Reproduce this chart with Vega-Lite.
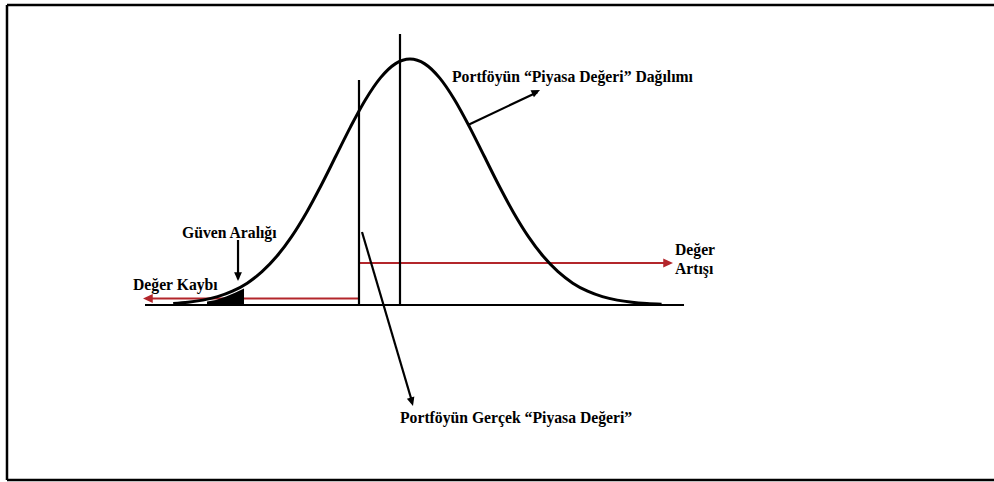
{
  "$schema": "https://vega.github.io/schema/vega-lite/v6.json",
  "width": 994,
  "height": 482,
  "padding": 0,
  "autosize": {"type": "fit", "contains": "padding"},
  "background": "white",
  "config": {"view": {"stroke": null}},
  "datasets": {
    "curve": [
      {"u": -3.2, "d": 0.0060}, {"u": -3.0, "d": 0.0111}, {"u": -2.8, "d": 0.0198}, {"u": -2.6, "d": 0.0340},
      {"u": -2.4, "d": 0.0561}, {"u": -2.2, "d": 0.0889}, {"u": -2.0, "d": 0.1353}, {"u": -1.8, "d": 0.1979},
      {"u": -1.6, "d": 0.2780}, {"u": -1.4, "d": 0.3753}, {"u": -1.2, "d": 0.4868}, {"u": -1.0, "d": 0.6065},
      {"u": -0.8, "d": 0.7262}, {"u": -0.6, "d": 0.8353}, {"u": -0.4, "d": 0.9231}, {"u": -0.2, "d": 0.9802},
      {"u": 0.0, "d": 1.0}, {"u": 0.2, "d": 0.9802}, {"u": 0.4, "d": 0.9231}, {"u": 0.6, "d": 0.8353},
      {"u": 0.8, "d": 0.7262}, {"u": 1.0, "d": 0.6065}, {"u": 1.2, "d": 0.4868}, {"u": 1.4, "d": 0.3753},
      {"u": 1.6, "d": 0.2780}, {"u": 1.8, "d": 0.1979}, {"u": 2.0, "d": 0.1353}, {"u": 2.2, "d": 0.0889},
      {"u": 2.4, "d": 0.0561}, {"u": 2.6, "d": 0.0340}, {"u": 2.8, "d": 0.0198}, {"u": 3.0, "d": 0.0111},
      {"u": 3.2, "d": 0.0060}, {"u": 3.4, "d": 0.0031}
    ],
    "block": [
      {"u": -2.743, "top": 0.0142}, {"u": -2.622, "top": 0.0203}, {"u": -2.486, "top": 0.0346},
      {"u": -2.365, "top": 0.0496}, {"u": -2.243, "top": 0.0671}
    ],
    "border": [
      {"x1": -5.446, "y1": 1.2195, "x2": 8.0, "y2": 1.2195},
      {"x1": -5.446, "y1": 1.2195, "x2": -5.446, "y2": -0.7114},
      {"x1": -5.446, "y1": -0.7114, "x2": 8.0, "y2": -0.7114}
    ],
    "blackLines": [
      {"name": "baseline", "x1": -3.581, "y1": 0.0, "x2": 3.703, "y2": 0.0},
      {"name": "mean", "x1": -0.1351, "y1": 1.1016, "x2": -0.1351, "y2": 0.0},
      {"name": "actual", "x1": -0.6892, "y1": 0.9146, "x2": -0.6892, "y2": 0.0},
      {"name": "guven", "x1": -2.324, "y1": 0.2642, "x2": -2.324, "y2": 0.105},
      {"name": "dagilim", "x1": 0.7838, "y1": 0.7317, "x2": 1.72, "y2": 0.8650},
      {"name": "gercek", "x1": -0.6486, "y1": 0.2967, "x2": 0.025, "y2": -0.39}
    ],
    "redLines": [
      {"name": "kayip", "x1": -0.6892, "y1": 0.0264, "x2": -3.50, "y2": 0.0264},
      {"name": "artis", "x1": -0.6892, "y1": 0.1707, "x2": 3.45, "y2": 0.1707}
    ],
    "blackHeads": [
      {"name": "guven", "u": -2.324, "d": 0.0976, "angle": 90},
      {"name": "dagilim", "u": 1.7568, "d": 0.8740, "angle": 334},
      {"name": "gercek", "u": 0.0405, "d": -0.4106, "angle": 74}
    ],
    "redHeads": [
      {"name": "kayip", "u": -3.608, "d": 0.0264, "angle": 180},
      {"name": "artis", "u": 3.554, "d": 0.1707, "angle": 0}
    ],
    "labels": [
      {"text": "Portföyün “Piyasa Değeri” Dağılımı", "u": 0.5676, "d": 0.9268},
      {"text": "Güven Aralığı", "u": -3.081, "d": 0.2927},
      {"text": "Değer Kaybı", "u": -3.743, "d": 0.0813},
      {"text": "Değer", "u": 3.581, "d": 0.2236},
      {"text": "Artışı", "u": 3.581, "d": 0.1463},
      {"text": "Portföyün Gerçek “Piyasa Değeri”", "u": -0.1351, "d": -0.4593}
    ]
  },
  "encoding": {
    "x": {"type": "quantitative", "scale": {"domain": [-5.5405, 7.8919], "nice": false, "zero": false}, "axis": null},
    "y": {"type": "quantitative", "scale": {"domain": [-0.7195, 1.2398], "nice": false, "zero": false}, "axis": null}
  },
  "layer": [
    {
      "data": {"name": "border"},
      "mark": {"type": "rule", "color": "black", "strokeWidth": 2.5, "clip": true},
      "encoding": {
        "x": {"field": "x1", "type": "quantitative"},
        "y": {"field": "y1", "type": "quantitative"},
        "x2": {"field": "x2"},
        "y2": {"field": "y2"}
      }
    },
    {
      "data": {"name": "redLines"},
      "mark": {"type": "rule", "color": "#b3262b", "strokeWidth": 2.2},
      "encoding": {
        "x": {"field": "x1", "type": "quantitative"},
        "y": {"field": "y1", "type": "quantitative"},
        "x2": {"field": "x2"},
        "y2": {"field": "y2"}
      }
    },
    {
      "data": {"name": "block"},
      "mark": {"type": "area", "color": "black", "interpolate": "linear"},
      "encoding": {
        "x": {"field": "u", "type": "quantitative"},
        "y": {"field": "top", "type": "quantitative"},
        "y2": {"datum": 0}
      }
    },
    {
      "data": {"name": "curve"},
      "mark": {"type": "line", "color": "black", "strokeWidth": 3, "interpolate": "monotone"},
      "encoding": {
        "x": {"field": "u", "type": "quantitative"},
        "y": {"field": "d", "type": "quantitative"}
      }
    },
    {
      "data": {"name": "blackLines"},
      "mark": {"type": "rule", "color": "black", "strokeWidth": 2.2},
      "encoding": {
        "x": {"field": "x1", "type": "quantitative"},
        "y": {"field": "y1", "type": "quantitative"},
        "x2": {"field": "x2"},
        "y2": {"field": "y2"}
      }
    },
    {
      "data": {"name": "blackHeads"},
      "mark": {"type": "point", "shape": "M0,0L-1,-0.45L-1,0.45Z", "filled": true, "color": "black", "size": 300, "opacity": 1, "strokeWidth": 0},
      "encoding": {
        "x": {"field": "u", "type": "quantitative"},
        "y": {"field": "d", "type": "quantitative"},
        "angle": {"field": "angle", "type": "quantitative", "scale": null}
      }
    },
    {
      "data": {"name": "redHeads"},
      "mark": {"type": "point", "shape": "M0,0L-1,-0.45L-1,0.45Z", "filled": true, "color": "#b3262b", "size": 380, "opacity": 1, "strokeWidth": 0},
      "encoding": {
        "x": {"field": "u", "type": "quantitative"},
        "y": {"field": "d", "type": "quantitative"},
        "angle": {"field": "angle", "type": "quantitative", "scale": null}
      }
    },
    {
      "data": {"name": "labels"},
      "mark": {"type": "text", "font": "Liberation Serif", "fontWeight": "bold", "fontSize": 15.7, "align": "left", "baseline": "middle", "color": "black"},
      "encoding": {
        "x": {"field": "u", "type": "quantitative"},
        "y": {"field": "d", "type": "quantitative"},
        "text": {"field": "text"}
      }
    }
  ]
}
